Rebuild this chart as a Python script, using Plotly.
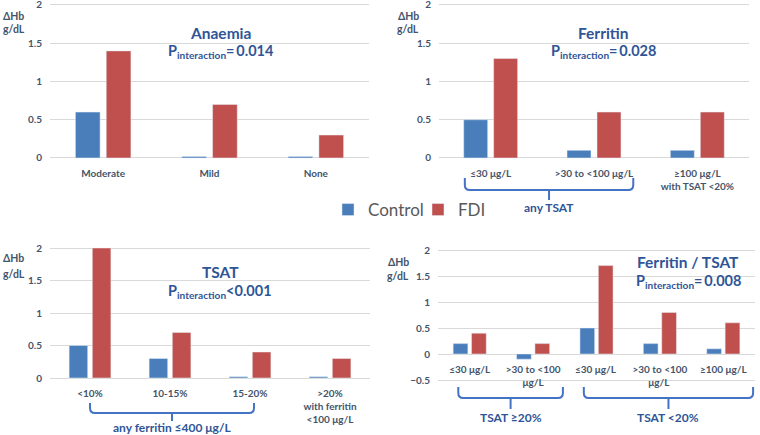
import plotly.graph_objects as go

W, H = 760, 435

# ---------------- data ----------------
anaemia_cats = ["Moderate", "Mild", "None"]
anaemia_control = [0.6, 0.02, 0.02]
anaemia_fdi = [1.4, 0.7, 0.3]

ferritin_cats = ["≤30 μg/L", ">30 to <100 μg/L", "≥100 μg/L<br>with TSAT <20%"]
ferritin_control = [0.5, 0.1, 0.1]
ferritin_fdi = [1.3, 0.6, 0.6]

tsat_cats = ["<10%", "10-15%", "15-20%", ">20%<br>with ferritin<br><100 μg/L"]
tsat_control = [0.5, 0.3, 0.02, 0.02]
tsat_fdi = [2.0, 0.7, 0.4, 0.3]

ft_cats = ["≤30 μg/L", ">30 to <100<br>μg/L", "≤30 μg/L ", ">30 to <100<br>μg/L ", "≥100 μg/L"]
ft_control = [0.2, -0.1, 0.5, 0.2, 0.1]
ft_fdi = [0.4, 0.2, 1.7, 0.8, 0.6]

panel_titles = ["Anaemia", "Ferritin", "TSAT", "Ferritin / TSAT"]
panel_p = ["=\u20090.014", "=\u20090.028", "<0.001", "=\u20090.008"]

brace_labels = ["any TSAT", "any ferritin ≤400 μg/L", "TSAT ≥20%", "TSAT <20%"]

BLUE = "#4A7EBB"
RED = "#C0504D"
TXT = "#44546A"
TITLE = "#2F5597"
BRACE = "#4472C4"
GRID = "#D9D9D9"
FONT = "Lato"


def px(x):
    return x / W


def py(y):
    return 1 - y / H


# panel geometry (pixels): x extent, y pixel of max / min value, value range
panels = [
    dict(x=(50, 369), y=(5, 158), rng=(0, 2), cats=anaemia_cats, c=anaemia_control, f=anaemia_fdi),
    dict(x=(439, 749), y=(5, 158), rng=(0, 2), cats=ferritin_cats, c=ferritin_control, f=ferritin_fdi),
    dict(x=(50, 370), y=(248, 378), rng=(0, 2), cats=tsat_cats, c=tsat_control, f=tsat_fdi),
    dict(x=(438, 755), y=(250, 380), rng=(-0.5, 2), cats=ft_cats, c=ft_control, f=ft_fdi),
]
EXT = 0.03  # small range padding so the outer gridlines are drawn

fig = go.Figure()
layout = {}
tick_font = dict(family=FONT, size=10, color=TXT, weight="bold")
for i, p in enumerate(panels):
    n = i + 1
    xa = "x" if n == 1 else f"x{n}"
    ya = "y" if n == 1 else f"y{n}"
    fig.add_trace(go.Bar(x=p["cats"], y=p["c"], name="Control", marker_color=BLUE,
                         xaxis=xa, yaxis=ya, showlegend=(n == 1), legendgroup="c"))
    fig.add_trace(go.Bar(x=p["cats"], y=p["f"], name="FDI", marker_color=RED,
                         xaxis=xa, yaxis=ya, showlegend=(n == 1), legendgroup="f"))
    lo, hi = p["rng"]
    k = (p["y"][1] - p["y"][0]) / (hi - lo)
    top_px = p["y"][0] - EXT * k
    bot_px = p["y"][1] + EXT * k
    ydom = [py(bot_px), py(top_px)]
    xkey = "xaxis" if n == 1 else f"xaxis{n}"
    ykey = "yaxis" if n == 1 else f"yaxis{n}"
    zero_px = p["y"][1] - (0 - lo) * k
    layout[xkey] = dict(domain=[px(p["x"][0]), px(p["x"][1])], anchor="free", position=py(zero_px),
                        type="category", showgrid=False, showline=False, ticks="", automargin=False,
                        tickfont=tick_font, ticklabelstandoff=8, ticklabeloverflow="allow")
    layout[ykey] = dict(domain=ydom, anchor=xa, range=[lo - EXT, hi + EXT], dtick=0.5, tick0=0,
                        showgrid=True, gridcolor=GRID, gridwidth=1,
                        zeroline=True, zerolinecolor=GRID, zerolinewidth=1,
                        showline=False, ticks="", ticklabelstandoff=7, automargin=False,
                        ticklabeloverflow="allow", tickfont=tick_font)

annotations = []


def txt(x, y, text, size, color, **kw):
    annotations.append(dict(x=px(x), y=py(y), xref="paper", yref="paper", text=text,
                            showarrow=False, xanchor="center", yanchor="middle",
                            font=dict(family=FONT, size=size, color=color), **kw))


# titles
title_pos = [(221, 33, 52), (603, 33, 52), (220, 272, 291), (688, 262, 281)]
for (tx, ty1, ty2), t, pv in zip(title_pos, panel_titles, panel_p):
    txt(tx, ty1, f"<b>{t}</b>", 15.5, TITLE)
    txt(tx, ty2, f"<b>P<sub>interaction</sub>{pv}</b>", 14.5, TITLE)

# ΔHb labels
dhb_pos = [(14, 16, 29), (408, 16, 29), (14, 258, 274), (398, 262, 276)]
for (lx, l1, l2) in dhb_pos:
    txt(lx, l1, "<b>ΔHb</b>", 10.5, TXT)
    txt(lx, l2, "<b>g/dL</b>", 10.5, TXT)

# braces: (panel index, start category pos, end category pos, y top, y line, y tick, y label)
braces = [
    (1, -0.25, 1.38, 178, 190, 200, 207),
    (2, 0.0, 2.05, 403, 413, 421, 427),
    (3, -0.18, 1.47, 387, 398, 409, 417),
    (3, 1.80, 4.47, 387, 398, 409, 417),
]
shapes = []
for (pi, s, e, yt, yl, yb, ylab), lab in zip(braces, brace_labels):
    p = panels[pi]
    cw = (p["x"][1] - p["x"][0]) / len(p["cats"])
    x0 = p["x"][0] + (s + 0.5) * cw
    x1 = p["x"][0] + (e + 0.5) * cw
    xm = (x0 + x1) / 2
    r = 5
    path = (f"M {px(x0)},{py(yt)} L {px(x0)},{py(yl - r)} Q {px(x0)},{py(yl)} {px(x0 + r)},{py(yl)} "
            f"L {px(x1 - r)},{py(yl)} Q {px(x1)},{py(yl)} {px(x1)},{py(yl - r)} L {px(x1)},{py(yt)} "
            f"M {px(xm)},{py(yl)} L {px(xm)},{py(yb)}")
    shapes.append(dict(type="path", path=path, xref="paper", yref="paper",
                       line=dict(color=BRACE, width=2)))
    txt(xm, ylab, f"<b>{lab}</b>", 12, TITLE)

fig.update_layout(
    width=W, height=H,
    margin=dict(l=0, r=0, t=0, b=0, autoexpand=False),
    paper_bgcolor="white", plot_bgcolor="white",
    barmode="group", bargap=0.42, bargroupgap=0.2,
    legend=dict(orientation="h", x=px(328), y=py(210), xanchor="left", yanchor="middle",
                font=dict(family=FONT, size=17, color="#595959"), itemwidth=30,
                entrywidth=45, bgcolor="rgba(0,0,0,0)"),
    annotations=annotations, shapes=shapes,
    **layout,
)

fig.write_html("out.html", config={"displayModeBar": False},
               post_script="document.body.style.margin='0';")
